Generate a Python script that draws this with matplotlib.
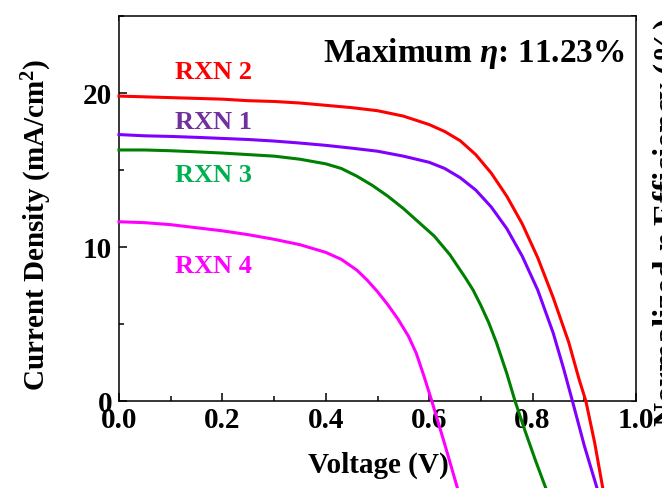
import matplotlib
matplotlib.use("Agg")
import matplotlib.pyplot as plt
from matplotlib.ticker import MultipleLocator, NullFormatter, FormatStrFormatter

plt.rcParams['font.family'] = ['Liberation Serif', 'DejaVu Serif']
plt.rcParams['font.weight'] = 'bold'
plt.rcParams['mathtext.fontset'] = 'custom'
plt.rcParams['mathtext.rm'] = 'Liberation Serif:bold'
plt.rcParams['mathtext.it'] = 'Liberation Serif:italic:bold'
plt.rcParams['mathtext.bf'] = 'Liberation Serif:bold'

# ── data ─────────────────────────────────────────────────────────────────────
v_rxn2 = [0.0, 0.05, 0.1, 0.15, 0.2, 0.25, 0.3, 0.35, 0.4, 0.45, 0.5, 0.55,
          0.6, 0.63, 0.66, 0.69, 0.72, 0.75, 0.78, 0.81, 0.84, 0.87, 0.89,
          0.903, 0.92, 0.936]
j_rxn2 = [19.8, 19.75, 19.7, 19.65, 19.6, 19.5, 19.45, 19.35, 19.2, 19.05, 18.85, 18.5,
          17.95, 17.5, 16.9, 16.0, 14.8, 13.3, 11.5, 9.3, 6.7, 3.8, 1.4,
          0.0, -2.7, -5.7]

v_rxn1 = [0.0, 0.05, 0.1, 0.15, 0.2, 0.25, 0.3, 0.35, 0.4, 0.45, 0.5, 0.55,
          0.6, 0.63, 0.66, 0.69, 0.72, 0.75, 0.78, 0.81, 0.84, 0.86, 0.877,
          0.90, 0.925]
j_rxn1 = [17.3, 17.22, 17.18, 17.12, 17.05, 16.98, 16.88, 16.75, 16.6, 16.42, 16.22, 15.9,
          15.5, 15.1, 14.5, 13.7, 12.6, 11.2, 9.4, 7.2, 4.4, 2.1, 0.0,
          -2.9, -5.7]

v_rxn3 = [0.0, 0.05, 0.1, 0.15, 0.2, 0.25, 0.3, 0.35, 0.4, 0.43, 0.46, 0.49,
          0.52, 0.55, 0.58, 0.61, 0.64, 0.67, 0.685, 0.70, 0.715, 0.73, 0.75,
          0.766, 0.786, 0.806, 0.826]
j_rxn3 = [16.3, 16.3, 16.25, 16.18, 16.1, 16.0, 15.9, 15.7, 15.4, 15.1, 14.6, 14.0,
          13.3, 12.5, 11.6, 10.7, 9.5, 8.0, 7.2, 6.2, 5.1, 3.8, 1.8,
          0.0, -2.0, -3.9, -5.7]

v_rxn4 = [0.0, 0.05, 0.1, 0.15, 0.2, 0.25, 0.3, 0.35, 0.4, 0.43, 0.46, 0.48,
          0.5, 0.52, 0.54, 0.56, 0.575, 0.59, 0.605, 0.63, 0.655]
j_rxn4 = [11.64, 11.58, 11.45, 11.25, 11.05, 10.8, 10.5, 10.15, 9.65, 9.2, 8.5, 7.85,
          7.1, 6.25, 5.3, 4.2, 3.1, 1.6, 0.0, -2.8, -5.7]

labels = ['RXN 2', 'RXN 1', 'RXN 3', 'RXN 4']
line_colors = ['#ff0000', '#8000ff', '#008000', '#ff00ff']
text_colors = ['#ff0000', '#7030a0', '#00b050', '#ff00ff']
label_y = [20.9, 17.65, 14.2, 8.3]
volts = [v_rxn2, v_rxn1, v_rxn3, v_rxn4]
currents = [j_rxn2, j_rxn1, j_rxn3, j_rxn4]

fig = plt.figure(figsize=(6.62, 4.88), dpi=100)
ax = fig.add_axes([119 / 662, 87 / 488, 517 / 662, 385 / 488])

for v, j, c in zip(volts, currents, line_colors):
    ax.plot(v, j, color=c, lw=2.2, clip_on=False, zorder=5)

for lab, c, y in zip(labels, text_colors, label_y):
    ax.text(0.108, y, lab, color=c, fontsize=19, fontweight='bold', va='baseline')

ax.text(0.979, 22.0, r'Maximum $\eta$: 11.23%', fontsize=24, fontweight='bold',
        ha='right', va='baseline')

ax.set_xlim(0, 1.0)
ax.set_ylim(0, 25)
ax.xaxis.set_major_locator(MultipleLocator(0.2))
ax.xaxis.set_minor_locator(MultipleLocator(0.1))
ax.yaxis.set_major_locator(MultipleLocator(10))
ax.yaxis.set_minor_locator(MultipleLocator(5))
ax.xaxis.set_major_formatter(FormatStrFormatter('%.1f'))
ax.tick_params(which='major', direction='in', length=6, width=1.1, labelsize=21)
ax.tick_params(which='minor', direction='in', length=3.5, width=1.1)
ax.tick_params(axis='x', which='major', pad=4)
ax.tick_params(axis='y', which='major', pad=5)
for s in ax.spines.values():
    s.set_linewidth(1.1)

ax.set_xlabel('Voltage (V)', fontsize=21, fontweight='bold')
ax.set_ylabel('Current Density (mA/cm$^2$)', fontsize=21, fontweight='bold')
ax.xaxis.set_label_coords(0.501, -0.132)
ax.yaxis.set_label_coords(-0.126, 0.457)

# top ticks every 0.1, right ticks every 5 (efficiency axis, labels cut off)
top = ax.twiny()
top.set_xlim(0, 1.0)
top.xaxis.set_major_locator(MultipleLocator(0.1))
top.xaxis.set_major_formatter(NullFormatter())
top.tick_params(direction='in', length=3.5, width=1.1)
right = ax.twinx()
right.set_ylim(0, 25)
right.yaxis.set_major_locator(MultipleLocator(5))
right.yaxis.set_major_formatter(NullFormatter())
right.tick_params(direction='in', length=3.5, width=1.1)
for a in (top, right):
    a.set_zorder(ax.get_zorder() - 1)
    for s in a.spines.values():
        s.set_visible(False)

fig.text(652 / 662, 1 - 222 / 488, r'Normalized $\eta$ Efficiency (%)', rotation=90,
         fontsize=24, fontweight='bold', ha='left', va='center')

fig.savefig('out.png', dpi=100)
